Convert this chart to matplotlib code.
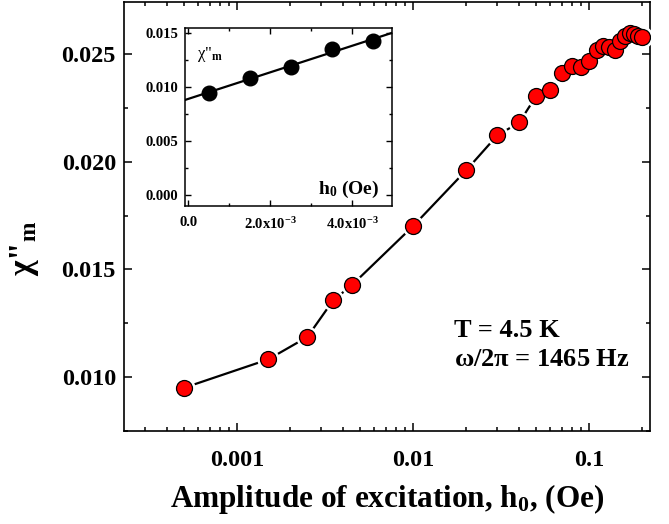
import numpy as np
import matplotlib
matplotlib.use("Agg")
import matplotlib.pyplot as plt
from matplotlib.ticker import FixedLocator, FixedFormatter, MultipleLocator, FormatStrFormatter, LogLocator

plt.rcParams["font.family"] = ["Liberation Serif", "DejaVu Serif"]
plt.rcParams["font.weight"] = "bold"
plt.rcParams["mathtext.fontset"] = "custom"
plt.rcParams["mathtext.rm"] = "Liberation Serif"
plt.rcParams["mathtext.it"] = "Liberation Serif:italic"
plt.rcParams["mathtext.bf"] = "Liberation Serif:bold"

# chi''_m versus excitation amplitude h0 (Oe)
h0 = [5e-4, 1.5e-3, 2.5e-3, 3.5e-3, 4.5e-3, 0.01, 0.02, 0.03, 0.04, 0.05,
      0.06, 0.07, 0.08, 0.09, 0.10, 0.11, 0.12, 0.13, 0.14, 0.15,
      0.16, 0.17, 0.18, 0.19, 0.20]
chi = [0.00949, 0.01081, 0.01185, 0.01355, 0.01428, 0.01702, 0.01961, 0.02123,
       0.02183, 0.02307, 0.02332, 0.02413, 0.02447, 0.02440, 0.02468, 0.02520,
       0.02537, 0.02535, 0.02520, 0.02560, 0.02586, 0.02597, 0.02593, 0.02586,
       0.02579]

# inset: lowest five amplitudes on a linear scale
inset_h0 = h0[:5]
inset_chi = chi[:5]
inset_xticks = [0.0, 2e-3, 4e-3]
inset_xlabels = ["0.0", r"2.0x10$^{\mathbf{-3}}$", r"4.0x10$^{\mathbf{-3}}$"]

fig = plt.figure(figsize=(6.69, 5.24), dpi=100)
ax = fig.add_axes([0.1858, 0.178, 0.7853, 0.8188])

ax.plot(h0, chi, color="black", lw=1.6, zorder=2)
ax.plot(h0, chi, ls="none", marker="o", ms=16, mfc="white", mec="none", zorder=3)
ax.plot(h0, chi, ls="none", marker="o", ms=11.5, mfc="#ff0000", mec="black",
        mew=0.9, zorder=4)

ax.set_xscale("log")
ax.set_xlim(2.28e-4, 0.2203)
ax.set_ylim(0.00749, 0.02745)
ax.xaxis.set_major_locator(FixedLocator([1e-3, 1e-2, 1e-1]))
ax.xaxis.set_major_formatter(FixedFormatter(["0.001", "0.01", "0.1"]))
ax.xaxis.set_minor_locator(LogLocator(base=10, subs=np.arange(2, 10)))
ax.xaxis.set_minor_formatter(FixedFormatter([]))
ax.yaxis.set_major_locator(MultipleLocator(0.005))
ax.yaxis.set_minor_locator(MultipleLocator(0.0025))
ax.yaxis.set_major_formatter(FormatStrFormatter("%.3f"))

for s in ax.spines.values():
    s.set_linewidth(1.2)
ax.tick_params(which="both", direction="in", top=True, right=True, width=1.1)
ax.tick_params(which="major", length=6, labelsize=17.5)
ax.tick_params(which="minor", length=3)
ax.tick_params(axis="x", which="major", pad=14)
ax.tick_params(axis="y", which="major", pad=6)

ax.set_xlabel("Amplitude of excitation, h$_{0}$, (Oe)", fontsize=22.5,
              fontweight="bold", labelpad=8)
ax.set_ylabel('$\\mathrm{\\chi}$"$_{\\mathbf{m}}$', fontsize=24, fontweight="bold")
ax.yaxis.set_label_coords(-0.158, 0.426)

ax.text(0.627, 0.218, "T = 4.5 K", transform=ax.transAxes, fontsize=19,
        fontweight="bold")
ax.text(0.627, 0.152, r"$\mathrm{\omega/2\pi}$ = 1465 Hz", transform=ax.transAxes,
        fontsize=19, fontweight="bold")

# inset
ins = fig.add_axes([0.2765, 0.6069, 0.3099, 0.3402])
fit = np.polyfit(inset_h0, inset_chi, 1)
xf = np.array([-8e-5, 4.98e-3])
ins.plot(xf, np.polyval(fit, xf), color="black", lw=1.6, zorder=2)
ins.plot(inset_h0, inset_chi, ls="none", marker="o", ms=10.5, color="black", zorder=3)
ins.set_xlim(-8e-5, 4.98e-3)
ins.set_ylim(-0.00102, 0.01552)
ins.xaxis.set_major_locator(FixedLocator(inset_xticks))
ins.xaxis.set_major_formatter(FixedFormatter(inset_xlabels))
ins.xaxis.set_minor_locator(MultipleLocator(1e-3))
ins.yaxis.set_major_locator(MultipleLocator(0.005))
ins.yaxis.set_minor_locator(MultipleLocator(0.0025))
ins.yaxis.set_major_formatter(FormatStrFormatter("%.3f"))
for s in ins.spines.values():
    s.set_linewidth(1.1)
ins.tick_params(which="both", direction="in", top=True, right=True, width=1.0)
ins.tick_params(which="major", length=4.5, labelsize=10.5, pad=5)
ins.tick_params(which="minor", length=2.5)
ins.tick_params(axis="x", which="major", pad=7)
ins.text(0.06, 0.83, 'χ"$_{\\mathbf{m}}$', transform=ins.transAxes, fontsize=12,
         fontweight="normal")
ins.text(0.64, 0.07, "h$_{\\mathbf{0}}$ (Oe)", transform=ins.transAxes, fontsize=14,
         fontweight="bold")

fig.savefig("out.png", dpi=100)
